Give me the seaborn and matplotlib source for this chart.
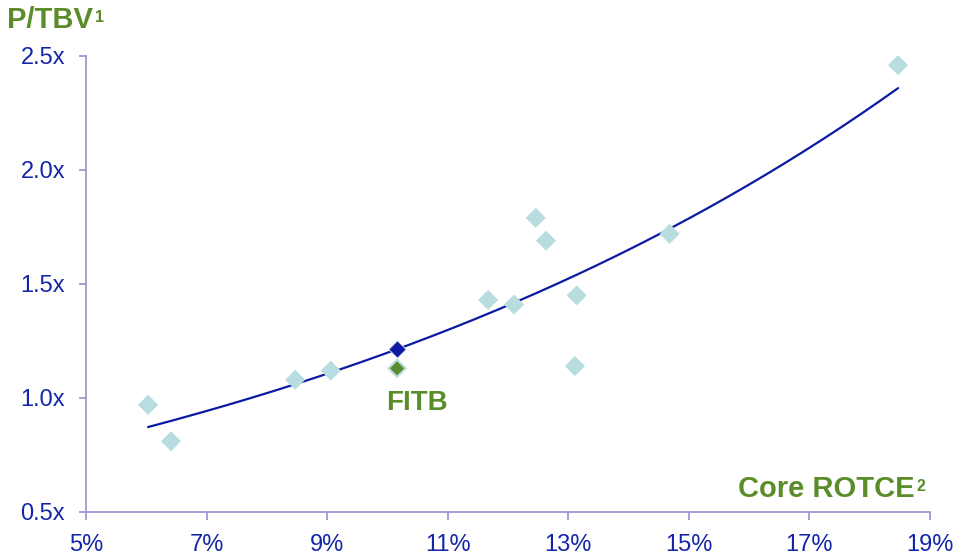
import numpy as np
import pandas as pd
import matplotlib
matplotlib.use("Agg")
import matplotlib.pyplot as plt
from matplotlib.text import Annotation
import seaborn as sns

# Peer banks: core ROTCE (%) vs price / tangible book value (x)
peer_rotce = [6.03, 6.41, 8.47, 9.06, 10.16, 11.67, 12.10, 12.46, 12.63, 13.14, 13.11, 14.68, 18.47]
peer_ptbv = [0.97, 0.81, 1.08, 1.12, 1.13, 1.43, 1.41, 1.79, 1.69, 1.45, 1.14, 1.72, 2.46]

# FITB actual and FITB implied by the peer regression
fitb_rotce = [10.16]
fitb_actual = [1.13]
fitb_implied = [1.215]

x_ticks = [5, 7, 9, 11, 13, 15, 17, 19]
y_ticks = [0.5, 1.0, 1.5, 2.0, 2.5]

TEAL = "#b8dde1"
NAVY = "#0b1aa3"
GREEN = "#5b8c2a"
AXIS = "#9a9ad0"
TICKTXT = "#1426a8"

sns.set_theme(style="white")
plt.rcParams["font.family"] = ["Liberation Sans", "DejaVu Sans"]

W, H = 957, 557
fig = plt.figure(figsize=(W / 100, H / 100), dpi=100)
ax = fig.add_axes([86 / W, 1 - 512 / H, (930 - 86) / W, (512 - 56) / H])

peers = pd.DataFrame({"rotce": peer_rotce, "ptbv": peer_ptbv})

# Exponential trend line fitted across the peer range
b, log_a = np.polyfit(peers["rotce"], np.log(peers["ptbv"]), 1)
xs = np.linspace(min(peer_rotce), max(peer_rotce), 200)
trend = pd.DataFrame({"rotce": xs, "ptbv": np.exp(log_a + b * xs)})
sns.lineplot(data=trend, x="rotce", y="ptbv", ax=ax, color=NAVY, lw=1.6, zorder=2)

sns.scatterplot(data=peers, x="rotce", y="ptbv", ax=ax, marker="D", s=105,
                color=TEAL, edgecolor="none", zorder=3)
sns.scatterplot(x=fitb_rotce, y=fitb_actual, ax=ax, marker="D", s=52,
                color=GREEN, edgecolor="none", zorder=4)
sns.scatterplot(x=fitb_rotce, y=fitb_implied, ax=ax, marker="D", s=78,
                color=NAVY, edgecolor="#e8eef8", linewidth=0.6, zorder=4)

ax.text(fitb_rotce[0] + 0.33, 0.98, "FITB", color=GREEN, fontsize=20,
        fontweight="bold", ha="center", va="center")

ax.set_xlim(5, 19)
ax.set_ylim(0.5, 2.5)
ax.set_xticks(x_ticks)
ax.set_xticklabels([f"{t}%" for t in x_ticks])
ax.set_yticks(y_ticks)
ax.set_yticklabels([f"{t:.1f}x" for t in y_ticks])
ax.set_xlabel("")
ax.set_ylabel("")

for side in ["top", "right"]:
    ax.spines[side].set_visible(False)
for side in ["left", "bottom"]:
    ax.spines[side].set_color(AXIS)
    ax.spines[side].set_linewidth(1.3)

ax.tick_params(axis="x", direction="out", length=6, width=1.3, color=AXIS,
               labelsize=17, labelcolor=TICKTXT, pad=10, bottom=True)
ax.tick_params(axis="y", direction="out", length=5, width=1.3, color=AXIS,
               labelsize=17, labelcolor=TICKTXT, pad=10, left=True)
ax.grid(False)


def caption(x_px, baseline_px, label, note):
    """Bold green axis caption followed by a small superscript footnote marker."""
    main = fig.text(x_px / W, 1 - baseline_px / H, label, color=GREEN, fontsize=21,
                    fontweight="bold", ha="left", va="baseline")
    fig.add_artist(Annotation(
        note, xy=(1, 1), xycoords=main, xytext=(1.5, -3.0), textcoords="offset points",
        color=GREEN, fontsize=11.5, fontweight="bold", ha="left", va="top"))


caption(7, 28, "P/TBV", "1")
caption(738, 497, "Core ROTCE", "2")

fig.savefig("out.png", dpi=100)
